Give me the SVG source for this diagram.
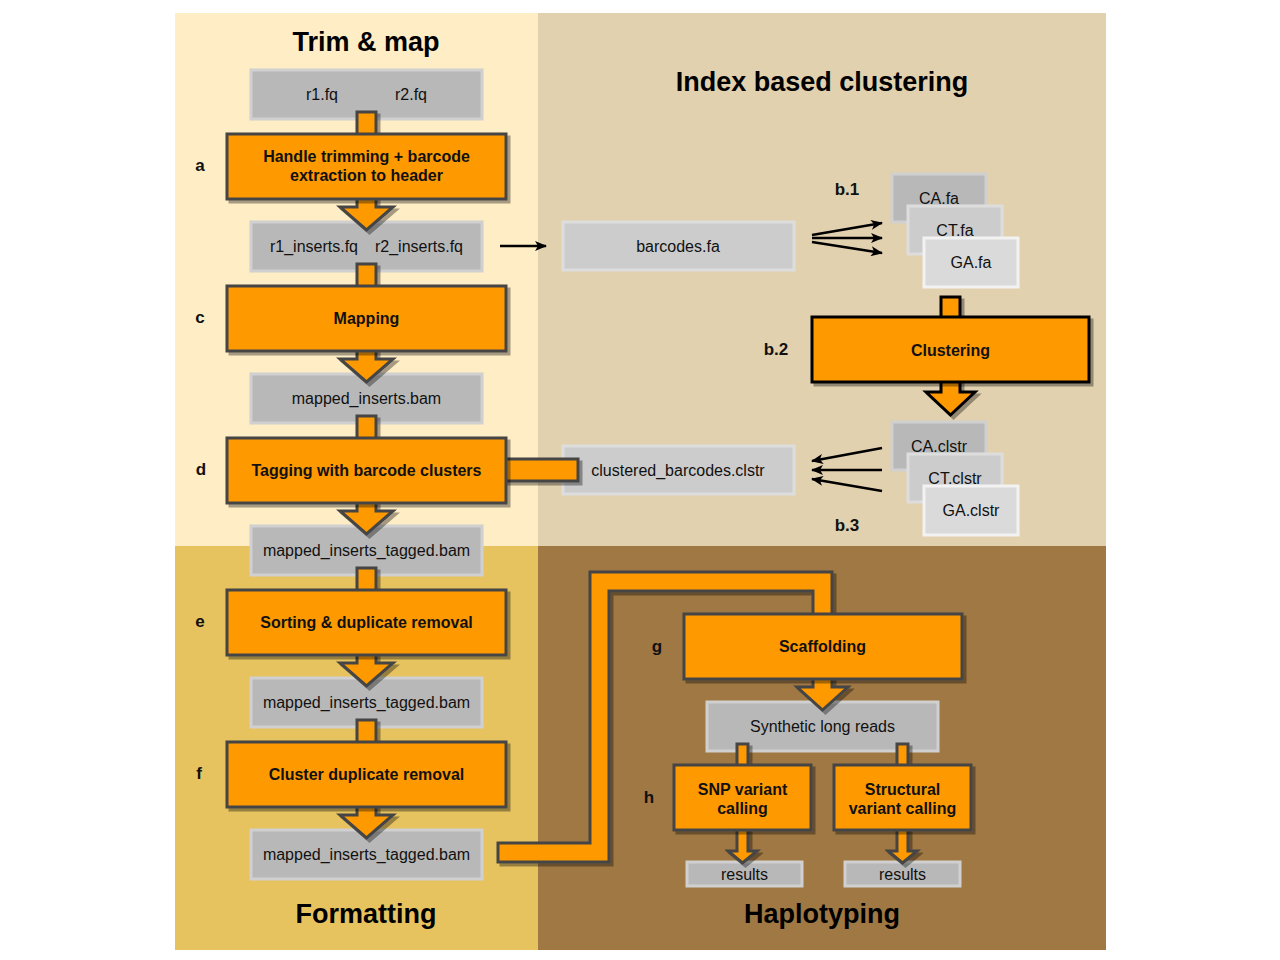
<svg xmlns="http://www.w3.org/2000/svg" width="1280" height="960" viewBox="0 0 1280 960">
<defs>
<filter id="sh" x="-10%" y="-10%" width="130%" height="130%">
<feDropShadow dx="3" dy="3" stdDeviation="0.6" flood-color="#000" flood-opacity="0.35"/>
</filter>
<marker id="ah" viewBox="0 0 12 10" refX="11" refY="5" markerWidth="12" markerHeight="10" markerUnits="userSpaceOnUse" orient="auto">
<path d="M0,0 L12,5 L0,10 L3,5 Z" fill="#000"/>
</marker>
<style>
.t{font-family:"Liberation Sans",Arial,sans-serif;fill:#111;text-anchor:middle}
.g{font-size:16px}
.b{font-size:16px;font-weight:bold}
.lab{font-family:"Liberation Sans",Arial,sans-serif;font-size:17px;font-weight:bold;fill:#111;text-anchor:middle}
.title{font-family:"Liberation Sans",Arial,sans-serif;font-size:27px;font-weight:bold;fill:#000;text-anchor:middle}
.gb{fill:#B8B8B8;stroke:#D0D0D0;stroke-width:3}
.gc{fill:#CCCCCC;stroke:#DDDDDD;stroke-width:3}
.gd{fill:#DADADA;stroke:#F2F2F2;stroke-width:3}
.pb{fill:#FF9900;stroke:#444;stroke-width:3;filter:url(#sh)}
.pk{fill:#FF9900;stroke:#000;stroke-width:3;filter:url(#sh)}
.ar{fill:#FF9900;stroke:#444;stroke-width:3;stroke-linejoin:miter;filter:url(#sh)}
.ark{fill:#FF9900;stroke:#000;stroke-width:3;filter:url(#sh)}
.ln{stroke:#000;stroke-width:2.5;fill:none;marker-end:url(#ah)}
</style>
</defs>

<g id="background">
<rect x="175" y="13" width="363" height="533" fill="#FFEDC5"/>
<rect x="538" y="13" width="568" height="533" fill="#E2D1AE"/>
<rect x="175" y="546" width="363" height="404" fill="#E6C35F"/>
<rect x="538" y="546" width="568" height="404" fill="#A07843"/>
<text class="title" x="366" y="51">Trim &amp; map</text>
<text class="title" x="822" y="91">Index based clustering</text>
<text class="title" x="366" y="923">Formatting</text>
<text class="title" x="822" y="923">Haplotyping</text>
<text class="lab" x="200" y="171">a</text>
<text class="lab" x="200" y="323">c</text>
<text class="lab" x="201" y="475">d</text>
<text class="lab" x="200" y="627">e</text>
<text class="lab" x="199" y="779">f</text>
<text class="lab" x="847" y="195">b.1</text>
<text class="lab" x="776" y="355">b.2</text>
<text class="lab" x="847" y="531">b.3</text>
<text class="lab" x="657" y="652">g</text>
<text class="lab" x="649" y="803">h</text>
</g>

<g id="n_reads"><rect class="gb" x="251" y="70" width="231" height="49"/><text class="t g" x="322" y="100">r1.fq</text><text class="t g" x="411" y="100">r2.fq</text></g>
<g id="n_inserts"><rect class="gb" x="251" y="222" width="231" height="49"/><text class="t g" x="314" y="252">r1_inserts.fq</text><text class="t g" x="419" y="252">r2_inserts.fq</text></g>
<g id="n_mapped"><rect class="gb" x="251" y="374" width="231" height="49"/><text class="t g" x="366.5" y="404">mapped_inserts.bam</text></g>
<g id="n_tagged1"><rect class="gb" x="251" y="526" width="231" height="49"/><text class="t g" x="366.5" y="556">mapped_inserts_tagged.bam</text></g>
<g id="n_tagged2"><rect class="gb" x="251" y="678" width="231" height="49"/><text class="t g" x="366.5" y="708">mapped_inserts_tagged.bam</text></g>
<g id="n_tagged3"><rect class="gb" x="251" y="830" width="231" height="49"/><text class="t g" x="366.5" y="860">mapped_inserts_tagged.bam</text></g>
<g id="n_barcodes"><rect class="gc" x="563" y="222" width="231" height="48"/><text class="t g" x="678" y="252">barcodes.fa</text></g>
<g id="n_clustered"><rect class="gc" x="563" y="446" width="231" height="48"/><text class="t g" x="678" y="476">clustered_barcodes.clstr</text></g>
<g id="n_ca_fa"><rect class="gb" x="892" y="174" width="94" height="48"/><text class="t g" x="939" y="204">CA.fa</text></g>
<g id="n_ct_fa"><rect class="gc" x="908" y="206" width="94" height="48"/><text class="t g" x="955" y="236">CT.fa</text></g>
<g id="n_ga_fa"><rect class="gd" x="924" y="238" width="94" height="49"/><text class="t g" x="971" y="268">GA.fa</text></g>
<g id="n_ca_cl"><rect class="gb" x="892" y="422" width="94" height="48"/><text class="t g" x="939" y="452">CA.clstr</text></g>
<g id="n_ct_cl"><rect class="gc" x="908" y="454" width="94" height="48"/><text class="t g" x="955" y="484">CT.clstr</text></g>
<g id="n_ga_cl"><rect class="gd" x="924" y="486" width="94" height="49"/><text class="t g" x="971" y="516">GA.clstr</text></g>
<g id="n_synth"><rect class="gb" x="707" y="702" width="231" height="49"/><text class="t g" x="822.5" y="732">Synthetic long reads</text></g>
<g id="n_res1"><rect class="gb" x="687" y="862" width="115" height="24"/><text class="t g" x="744.5" y="880">results</text></g>
<g id="n_res2"><rect class="gb" x="845" y="862" width="115" height="24"/><text class="t g" x="902.5" y="880">results</text></g>

<g id="connectors">
<polygon class="ar" points="357,112 376,112 376,207 393,207 366.5,230 340,207 357,207"/>
<polygon class="ar" points="357,264 376,264 376,359 393,359 366.5,382 340,359 357,359"/>
<polygon class="ar" points="357,416 376,416 376,511 393,511 366.5,534 340,511 357,511"/>
<polygon class="ar" points="357,568 376,568 376,663 393,663 366.5,686 340,663 357,663"/>
<polygon class="ar" points="357,720 376,720 376,815 393,815 366.5,838 340,815 357,815"/>
<polygon class="ar" points="490,459 578,459 578,481 490,481"/>
<polygon class="ark" points="941,297 960,297 960,392 975,392 950.5,415 926,392 941,392"/>
<polygon class="ar" points="498,843 590,843 590,572 832,572 832,687 848,687 822.5,710 797,687 813,687 813,591 609,591 609,862 498,862"/>
<polygon class="ar" points="737,744 748,744 748,851 757,851 742.5,863 728,851 737,851"/>
<polygon class="ar" points="897,744 908,744 908,851 917,851 902.5,863 888,851 897,851"/>
<line class="ln" x1="500" y1="246" x2="546" y2="246"/>
<line class="ln" x1="812" y1="235" x2="882" y2="223"/>
<line class="ln" x1="812" y1="238" x2="882" y2="238"/>
<line class="ln" x1="812" y1="242" x2="882" y2="253"/>
<line class="ln" x1="882" y1="448" x2="812" y2="461"/>
<line class="ln" x1="882" y1="470" x2="812" y2="470"/>
<line class="ln" x1="882" y1="491" x2="812" y2="479"/>
</g>

<g id="p_trim"><rect class="pb" x="227" y="134" width="279" height="65"/><text class="t b" x="366.5" y="162">Handle trimming + barcode</text><text class="t b" x="366.5" y="181">extraction to header</text></g>
<g id="p_map"><rect class="pb" x="227" y="286" width="279" height="65"/><text class="t b" x="366.5" y="324">Mapping</text></g>
<g id="p_tag"><rect class="pb" x="227" y="438" width="279" height="65"/><text class="t b" x="366.5" y="476">Tagging with barcode clusters</text></g>
<g id="p_sort"><rect class="pb" x="227" y="590" width="279" height="65"/><text class="t b" x="366.5" y="628">Sorting &amp; duplicate removal</text></g>
<g id="p_cdup"><rect class="pb" x="227" y="742" width="279" height="65"/><text class="t b" x="366.5" y="780">Cluster duplicate removal</text></g>
<g id="p_clust"><rect class="pk" x="812" y="317" width="277" height="65"/><text class="t b" x="950.5" y="356">Clustering</text></g>
<g id="p_scaf"><rect class="pb" x="684" y="614" width="278" height="65"/><text class="t b" x="822.5" y="652">Scaffolding</text></g>
<g id="p_snp"><rect class="pb" x="674" y="765" width="137" height="65"/><text class="t b" x="742.5" y="795">SNP variant</text><text class="t b" x="742.5" y="814">calling</text></g>
<g id="p_sv"><rect class="pb" x="834" y="765" width="137" height="65"/><text class="t b" x="902.5" y="795">Structural</text><text class="t b" x="902.5" y="814">variant calling</text></g>
</svg>
